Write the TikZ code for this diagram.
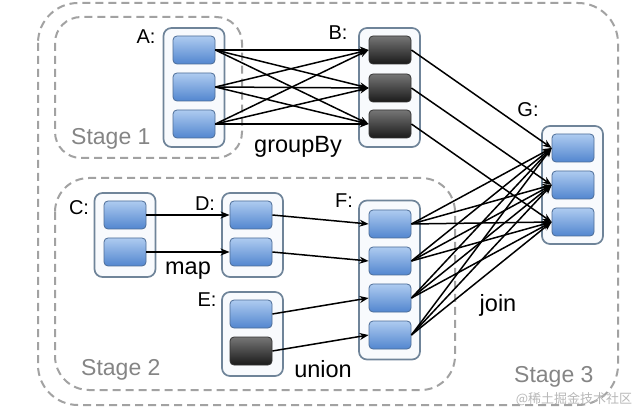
\documentclass[tikz,border=0pt]{standalone}
\usepackage{fontspec}
\setmainfont{Liberation Sans}
\newfontfamily\cjk{Noto Sans CJK SC}
\usetikzlibrary{arrows.meta}
\definecolor{contborder}{HTML}{6F8499}
\definecolor{contfill}{HTML}{F8FAFD}
\definecolor{bluetop}{HTML}{AECBF0}
\definecolor{bluebot}{HTML}{5286CF}
\definecolor{blueedge}{HTML}{4C6C96}
\definecolor{darktop}{HTML}{767676}
\definecolor{darkbot}{HTML}{1A1A1A}
\definecolor{stagegray}{HTML}{A2A2A2}
\definecolor{stagetext}{HTML}{858585}
\tikzset{
  stagebox/.style={draw=stagegray, line width=2pt, dash pattern=on 8pt off 5pt},
  cont/.style={draw=contborder, fill=contfill, line width=1.7pt, rounded corners=8pt, minimum width=61pt, inner sep=0pt},
  bbox/.style={draw=blueedge, line width=0.8pt, top color=bluetop, bottom color=bluebot, rounded corners=4pt, minimum width=42pt, minimum height=28pt, inner sep=0pt},
  kbox/.style={draw=black!80, line width=0.8pt, top color=darktop, bottom color=darkbot, rounded corners=4pt, minimum width=42pt, minimum height=28pt, inner sep=0pt},
  conn/.style={line width=1.5pt, -{Stealth[length=9pt,width=7pt]}},
  lbl/.style={font=\fontsize{20}{22}\selectfont, inner sep=0pt},
  op/.style={font=\fontsize{23.5}{25}\selectfont, inner sep=0pt, anchor=base},
  stg/.style={font=\fontsize{23}{25}\selectfont, text=stagetext, inner sep=0pt, anchor=base west},
}
\begin{document}
\begin{tikzpicture}[x=1pt,y=-1pt]
\useasboundingbox[fill=white] (0,0) rectangle (639,411);
% stage boxes
\draw[stagebox, rounded corners=40pt] (38,3) rectangle (618,405);
\draw[stagebox, rounded corners=26pt] (55,17) rectangle (242,158);
\draw[stagebox, rounded corners=34pt] (55,178) rectangle (455,390);
% containers
\node[cont, minimum height=119pt] (A) at (194,87.5) {};
\node[cont, minimum height=119pt] (B) at (389.5,87.5) {};
\node[cont, minimum height=118pt] (G) at (572.5,185) {};
\node[cont, minimum height=84pt] (C) at (125,235) {};
\node[cont, minimum height=84pt] (D) at (252.5,235) {};
\node[cont, minimum height=84pt] (E) at (252.5,334) {};
\node[cont, minimum height=159pt] (F) at (389.5,280) {};
% inner boxes
\node[bbox] (a1) at (194,50) {};
\node[bbox] (a2) at (194,87) {};
\node[bbox] (a3) at (194,124) {};
\node[kbox] (b1) at (390,50) {};
\node[kbox] (b2) at (390,88) {};
\node[kbox] (b3) at (390,124) {};
\node[bbox] (g1) at (573,148) {};
\node[bbox] (g2) at (573,185) {};
\node[bbox] (g3) at (573,222) {};
\node[bbox] (c1) at (125,215) {};
\node[bbox] (c2) at (125,252) {};
\node[bbox] (d1) at (251,215) {};
\node[bbox] (d2) at (251,252) {};
\node[bbox] (e1) at (251,314) {};
\node[kbox] (e2) at (251,351) {};
\node[bbox] (f1) at (390,224) {};
\node[bbox] (f2) at (390,261) {};
\node[bbox] (f3) at (390,298) {};
\node[bbox] (f4) at (390,335) {};
% connectors
\foreach \s in {a1,a2,a3}{\foreach \t in {b1,b2,b3}{\draw[conn] (\s.east) -- (\t.west);}}
\foreach \s/\t in {b1/g1,b2/g2,b3/g3}{\draw[conn] (\s.east) -- (\t.west);}
\foreach \s in {f1,f2,f3,f4}{\foreach \t in {g1,g2,g3}{\draw[conn] (\s.east) -- (\t.west);}}
\draw[conn] (c1.east) -- (d1.west);
\draw[conn] (c2.east) -- (d2.west);
\draw[conn] (d1.east) -- (f1.west);
\draw[conn] (d2.east) -- (f2.west);
\draw[conn] (e1.east) -- (f3.west);
\draw[conn] (e2.east) -- (f4.west);
% labels
\node[lbl] (la) at (146,37) {A:};
\node[lbl] (lb) at (338,33) {B:};
\node[lbl] (lg) at (528,110) {G:};
\node[lbl] (lc) at (79,208) {C:};
\node[lbl] (ld) at (205,204) {D:};
\node[lbl] (le) at (207,300) {E:};
\node[lbl] (lf) at (344,201) {F:};
\node[op] (tgroup) at (298,153) {groupBy};
\node[op] (tmap) at (188,275) {map};
\node[op] (tunion) at (323,377) {union};
\node[op] (tjoin) at (498,311) {join};
\node[stg] (s1) at (71,145) {Stage 1};
\node[stg] (s2) at (81,375) {Stage 2};
\node[stg] (s3) at (514,382) {Stage 3};
\node[font=\cjk\fontsize{13}{14}\selectfont, text=black!28, inner sep=0pt] (wm) at (574,399) {@稀土掘金技术社区};
\end{tikzpicture}
\end{document}
